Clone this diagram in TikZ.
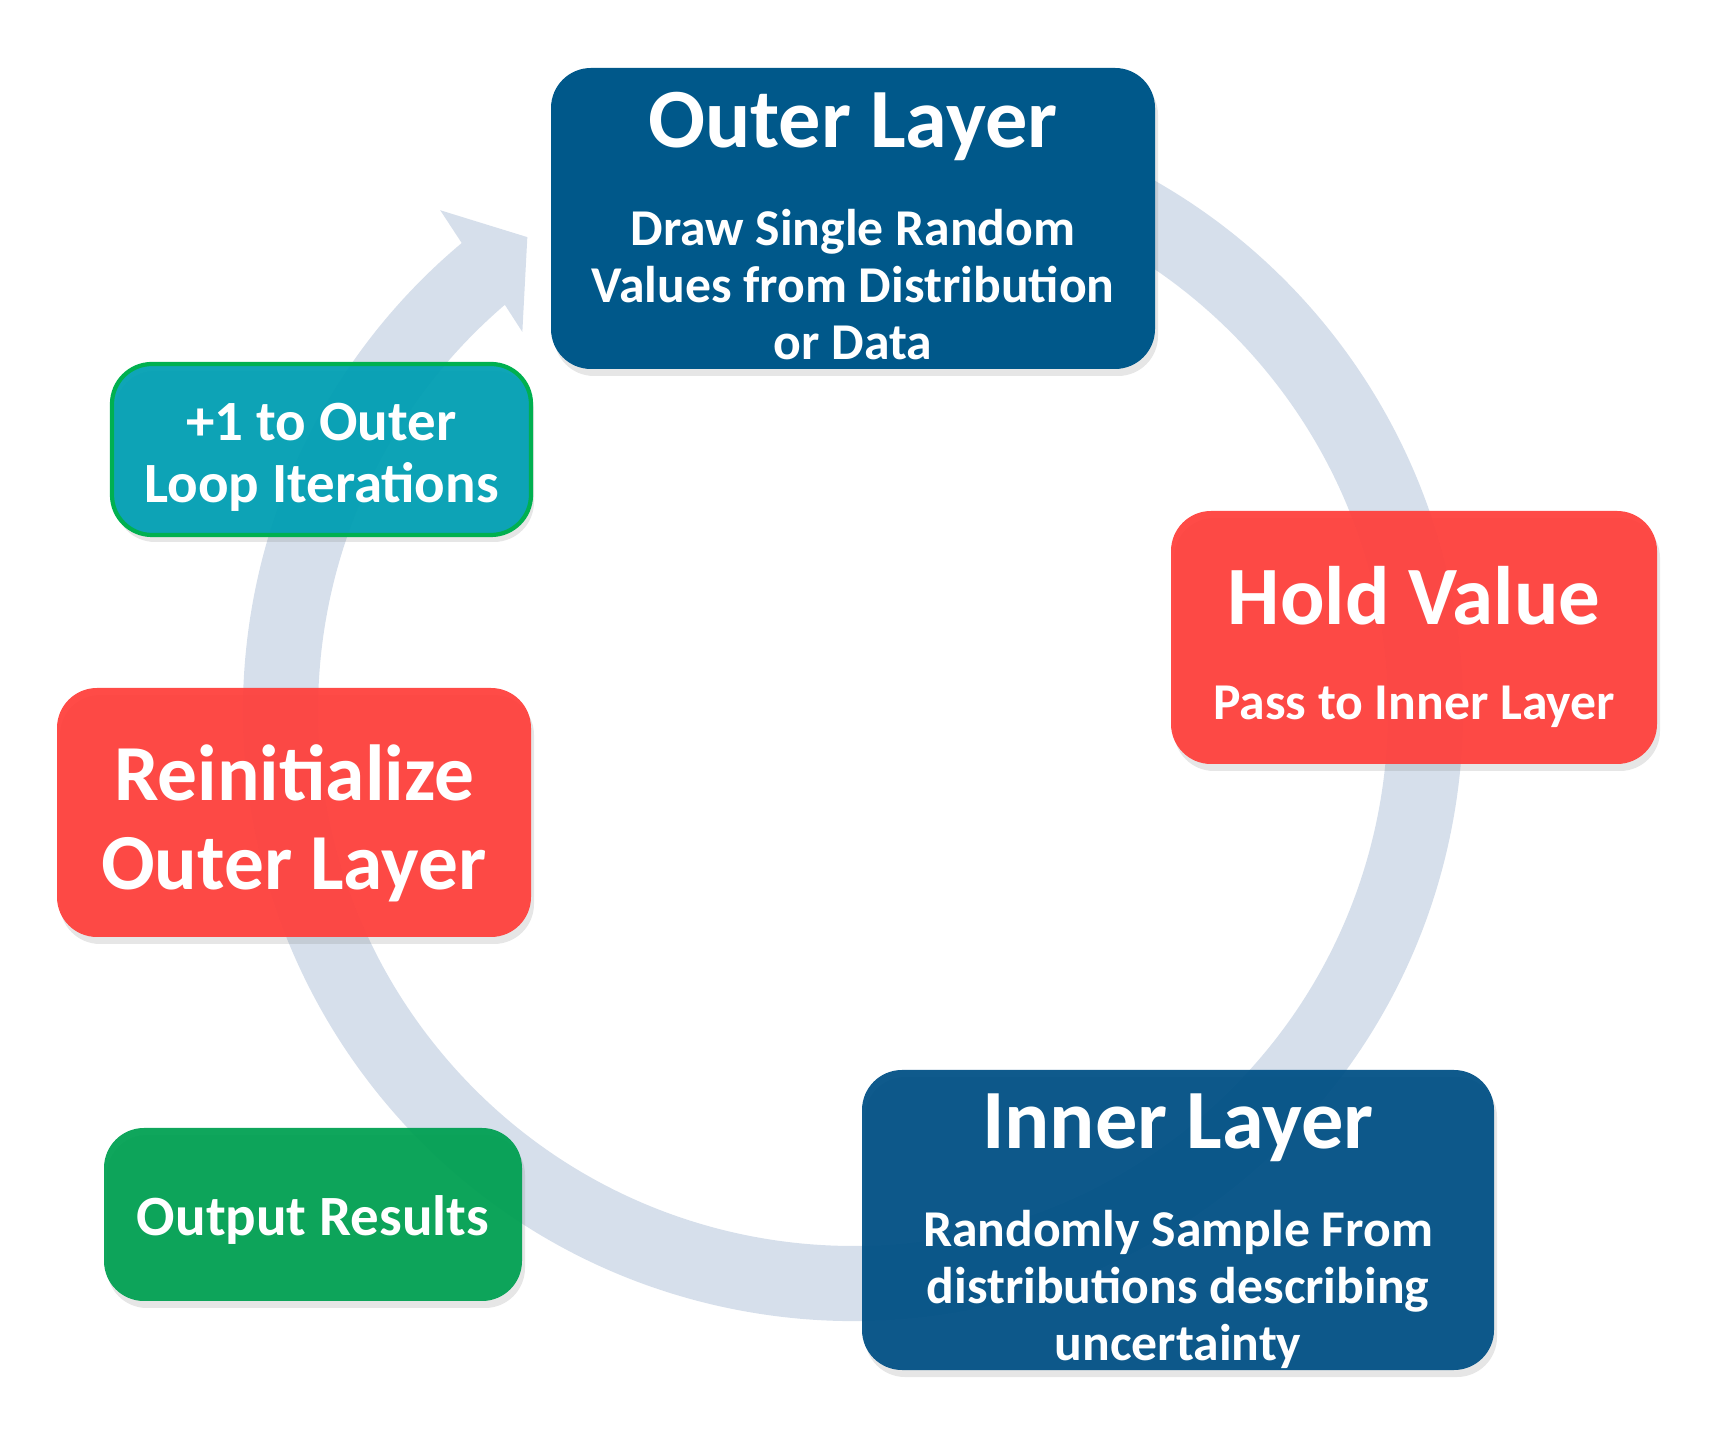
\documentclass[tikz,border=0pt]{standalone}
\usepackage{fontspec}
\setmainfont{Carlito}
\usepackage{xcolor}
\usetikzlibrary{shadows}

\definecolor{layerblue}{RGB}{0,88,138}
\definecolor{innerblue}{RGB}{0,80,133}
\definecolor{holdred}{RGB}{255,64,60}
\definecolor{loopteal}{RGB}{0,159,179}
\definecolor{loopgreen}{RGB}{0,176,80}
\definecolor{resultgreen}{RGB}{0,160,82}
\definecolor{ringgray}{RGB}{214,223,235}

\begin{document}
\begin{tikzpicture}[
    stage/.style={rectangle, rounded corners=0.4cm, text=white, align=center, inner sep=0pt,
        drop shadow={opacity=0.2, shadow xshift=0.03cm, shadow yshift=-0.07cm}},
    seethrough/.style={fill opacity=0.94, text opacity=1},
    subtext/.style={font=\bfseries\fontsize{14.7}{16.3}\selectfont}
]
        \useasboundingbox (0,0) rectangle (17.12,14.29);
        \coordinate (hub) at (8.53,7.18);

        % cycle arrow, drawn first so the boxes sit on it
        \fill[ringgray] ([shift={(80:6.10)}]hub) arc[start angle=80, end angle=-230.1, radius=6.10]
            -- ([shift={(129.5:6.49)}]hub) -- ([shift={(124.5:5.75)}]hub)
            -- ([shift={(131.1:5.03)}]hub) -- ([shift={(130.6:5.35)}]hub)
            arc[start angle=-229.4, end angle=80, radius=5.35] -- cycle;

        \node[stage, subtext, fill=layerblue, minimum width=6.04cm, minimum height=3.01cm] (outer) at (8.53,12.105)
            {{\fontsize{24}{28}\selectfont\rule{0pt}{20pt}Outer Layer}\\[11.5pt]Draw Single Random\\Values from Distribution\\or Data};

        \node[stage, seethrough, subtext, fill=holdred, minimum width=4.86cm, minimum height=2.53cm] (hold) at (14.14,7.915)
            {{\fontsize{23.6}{28}\selectfont\rule{0pt}{22pt}Hold Value}\\[10.5pt]Pass to Inner Layer};

        \node[stage, seethrough, subtext, fill=innerblue, minimum width=6.32cm, minimum height=3.0cm] (inner) at (11.78,2.09)
            {{\fontsize{24}{28}\selectfont\rule{0pt}{22pt}Inner Layer}\\[11.5pt]Randomly Sample From\\distributions describing\\uncertainty};

        \node[stage, seethrough, fill=resultgreen, minimum width=4.18cm, minimum height=1.73cm,
            font=\bfseries\fontsize{16.2}{19}\selectfont] (output) at (3.13,2.145) {\rule{0pt}{14.5pt}Output Results};

        \node[stage, seethrough, fill=holdred, minimum width=4.74cm, minimum height=2.49cm,
            font=\bfseries\fontsize{22.6}{25.5}\selectfont] (reinit) at (2.94,6.165) {\rule{0pt}{22pt}Reinitialize\\Outer Layer};

        \node[stage, seethrough, fill=loopteal, draw=loopgreen, line width=1.2pt, minimum width=4.19cm, minimum height=1.71cm,
            font=\bfseries\fontsize{16.2}{17.6}\selectfont] (plusone) at (3.215,9.795) {\rule{0pt}{15pt}+1 to Outer\\Loop Iterations};
\end{tikzpicture}
\end{document}
